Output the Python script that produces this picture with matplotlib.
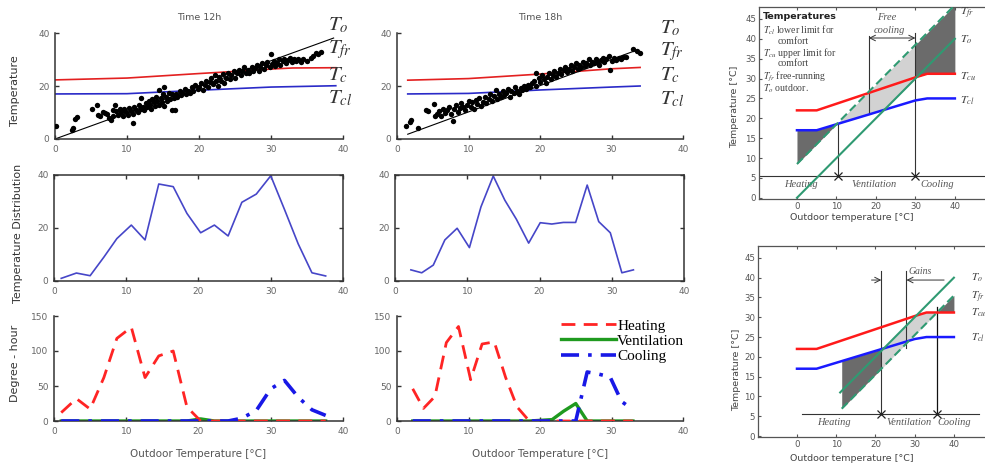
import numpy as np
import matplotlib
matplotlib.use('Agg')
import matplotlib.pyplot as plt

plt.rcParams['mathtext.fontset'] = 'stix'
plt.rcParams['font.family'] = ['DejaVu Sans']

# ---------------- data ----------------
# Time 12h scatter (outdoor temp vs indoor temp)
x12 = [0.1,2.3,2.5,2.8,3.0,5.2,5.9,6.0,6.3,6.6,6.9,7.2,7.5,7.8,8.0,8.1,8.3,8.5,8.8,9.0,9.2,9.4,9.6,9.9,
       10.1,10.3,10.5,10.8,10.9,11.0,11.3,11.5,11.7,11.9,12.0,12.2,12.4,12.6,12.8,13.0,13.2,13.3,13.5,13.7,
       13.9,14.0,14.2,14.4,14.5,14.7,14.9,15.0,15.1,15.2,15.4,15.6,15.8,16.0,16.2,16.3,16.5,16.7,16.8,17.0,
       17.3,17.5,17.7,18.0,18.2,18.5,18.8,19.0,19.2,19.5,19.8,20.0,20.3,20.5,20.8,21.0,21.2,21.5,21.7,22.0,
       22.2,22.4,22.6,22.8,23.0,23.3,23.5,23.8,24.0,24.3,24.5,24.8,25.0,25.3,25.5,25.8,26.0,26.3,26.5,26.8,
       27.0,27.3,27.5,27.8,28.0,28.3,28.5,28.8,29.0,29.3,29.5,29.8,30.0,30.1,30.4,30.6,30.9,31.1,31.3,31.6,
       31.8,32.1,32.3,32.6,32.9,33.2,33.5,33.8,34.2,34.5,35.0,35.5,35.8,36.2,36.5,37.0]
y12 = [4.8,3.5,4.2,7.5,8.2,11.5,12.8,9.0,8.5,10.2,9.8,9.5,8.0,7.2,11.0,8.5,13.0,10.5,9.0,11.2,10.0,8.5,11.5,10.2,
       9.0,11.8,10.5,9.5,6.2,12.0,11.0,10.0,13.0,11.5,15.5,12.2,10.8,13.5,12.0,14.5,13.0,11.5,15.0,13.8,
       12.5,16.0,14.2,18.5,13.0,15.5,14.0,17.0,19.5,12.5,16.0,14.5,17.5,15.0,11.0,16.8,15.5,10.8,17.0,16.0,
       18.2,16.5,17.5,19.0,16.8,18.0,17.2,19.5,18.2,20.5,18.8,19.8,21.0,18.5,20.2,22.0,19.5,21.5,23.0,20.8,
       24.0,22.0,20.0,23.5,22.0,24.5,21.0,23.2,25.0,22.5,24.0,25.5,23.0,24.8,26.2,24.0,25.5,27.0,24.8,26.0,
       25.0,27.2,25.8,26.8,28.0,25.5,27.0,28.5,26.5,27.8,29.0,27.0,32.0,28.2,29.5,27.5,28.8,30.0,28.0,29.5,
       30.2,28.5,29.8,30.5,29.0,30.2,29.5,30.0,29.2,30.0,29.5,30.5,31.5,32.5,32.0,33.0]
# Time 18h scatter
x18 = [1.3,1.8,2.0,2.9,4.0,4.3,5.2,5.3,5.6,5.9,6.1,6.4,6.7,7.0,7.3,7.5,7.9,8.0,8.3,8.5,8.8,9.0,9.3,9.5,9.8,
       10.0,10.3,10.5,10.8,11.0,11.2,11.5,11.8,12.0,12.3,12.5,12.8,13.0,13.3,13.5,13.8,14.0,14.3,14.5,14.8,
       15.0,15.3,15.5,15.8,16.0,16.3,16.5,16.8,17.0,17.3,17.5,17.8,18.0,18.3,18.6,18.9,19.2,19.5,19.5,19.8,
       20.0,20.3,20.5,20.8,21.0,21.3,21.5,21.8,22.0,22.3,22.5,22.8,23.0,23.3,23.5,23.8,24.0,24.3,24.5,24.8,
       25.0,25.3,25.5,25.8,26.0,26.3,26.5,26.8,27.0,27.3,27.5,27.8,28.0,28.3,28.5,28.8,29.0,29.3,29.6,29.8,
       30.0,30.3,30.6,31.0,31.3,31.6,32.0,33.0,33.5,34.0]
y18 = [4.8,6.5,7.2,4.2,11.0,10.5,13.2,8.5,9.5,10.5,8.8,11.2,9.8,10.8,12.0,9.5,6.8,11.5,12.8,10.2,11.8,13.5,12.0,10.8,13.0,
       14.5,12.2,13.8,11.5,14.8,13.2,15.5,12.5,14.0,16.0,13.5,15.2,17.0,14.5,16.2,18.5,15.0,17.0,15.8,18.0,
       16.5,17.5,19.0,16.0,18.0,17.2,19.5,18.2,17.0,19.2,18.5,20.0,19.0,20.5,19.5,21.0,22.0,25.0,20.0,23.0,
       21.5,24.0,22.5,21.2,23.5,25.0,22.8,24.2,25.5,23.5,25.0,26.5,24.5,26.0,27.0,25.2,26.5,27.8,25.8,27.0,
       28.5,26.5,28.0,27.0,29.0,27.5,28.5,30.0,27.8,29.2,28.5,30.2,29.0,28.0,29.8,30.5,29.0,30.2,31.5,26.2,
       29.5,30.5,29.8,30.5,30.0,31.0,30.8,33.8,33.2,32.5]
# comfort limits (left panels)
tc12_x = [0, 10, 20, 25, 30, 33, 39];  tc12_y = [22.3, 23.0, 24.7, 25.5, 26.4, 26.8, 26.9]
tcl12_x = [0, 10, 20, 30, 39];         tcl12_y = [17.0, 17.1, 18.4, 19.6, 20.1]
to12_x = [0, 38.7];                    to12_y = [0, 38.1]
tc18_x = [1.5, 10, 20, 25, 30, 34];    tc18_y = [22.2, 22.8, 24.5, 25.5, 26.5, 27.0]
tcl18_x = [1.5, 10, 20, 30, 34];       tcl18_y = [17.0, 17.2, 18.5, 19.6, 20.0]
to18_x = [1.5, 33.5];                  to18_y = [1.8, 33.5]

# temperature distribution
d12_x = [1.0,3.1,5.0,6.9,8.7,10.7,12.6,14.5,16.5,18.4,20.3,22.2,24.1,26.0,28.0,30.0,31.9,33.8,35.7,37.6]
d12_y = [1.0,3.0,2.0,9.0,16.0,21.1,15.5,36.6,35.6,25.5,18.2,21.1,17.0,29.7,32.8,39.7,27.0,14.0,3.1,1.9]
d18_x = [2.2,3.7,5.3,6.9,8.6,10.3,11.9,13.6,15.2,16.8,18.5,20.1,21.7,23.3,25.0,26.6,28.2,29.8,31.4,33.0]
d18_y = [4.2,3.1,6.0,15.5,19.9,12.6,28.0,39.6,30.5,23.3,14.3,22.0,21.5,22.1,22.1,36.2,22.4,18.2,3.1,4.2]

# degree-hours
heat12 = [12,32,17,62,118,134,62,93,100,20,0,0,0,0,0,0,0,0,0,0]
vent12 = [0,0,0,0,0,0,0,0,0,0,3,0,0,0,0,0,0,0,0,0]
cool12 = [0,0,0,0,0,0,0,0,0,0,0,0,0,4,15,46,58,34,16,8]
heat18 = [46,18,35,112,135,59,110,113,62,20,0,0,0,0,0,0,0,0,0,0]
vent18 = [0,0,0,0,0,0,0,0,0,0,0,1,2,14,25,0,0,0,0,0]
cool18 = [0,0,0,0,0,0,0,0,0,0,0,0,0,0,0,70,67,63,28,16]

# right-hand schematic diagrams
tcu_x = [0, 5, 30, 33, 40];  tcu_y = [22, 22, 30.3, 31.2, 31.2]
tcl_x = [0, 5, 30, 33, 40];  tcl_y = [17, 17, 24.5, 25, 25]
a_to_x = [0, 40];    a_to_y = [0, 40]
a_tfr_x = [0, 40];   a_tfr_y = [8.5, 48.5]
a_bounds = [10.3, 30.0]          # heating|ventilation, ventilation|cooling
b_to_x = [11.0, 40]; b_to_y = [11.0, 40]
b_tfr_x = [11.4, 40]; b_tfr_y = [6.9, 35.5]
b_bounds = [21.5, 35.7]

# ---------------- figure ----------------
W, H = 985, 465
fig = plt.figure(figsize=(W / 100, H / 100), dpi=100)

def add_ax(l, r, t, b):
    return fig.add_axes([l / W, 1 - b / H, (r - l) / W, (b - t) / H])

def ftext(px, py, s, **kw):
    fig.text(px / W, 1 - py / H, s, **kw)

TICKC = '#666666'
SPC = '#333333'

def style_left(ax, box=False, ylim=(0, 40), yticks=(0, 20, 40)):
    ax.set_xlim(0, 40)
    ax.set_ylim(*ylim)
    ax.set_xticks([0, 10, 20, 30, 40])
    ax.set_yticks(list(yticks))
    for s in ['left', 'bottom', 'top', 'right']:
        ax.spines[s].set_color(SPC)
        ax.spines[s].set_linewidth(1.1)
    if not box:
        ax.spines['top'].set_visible(False)
        ax.spines['right'].set_visible(False)
    ax.tick_params(direction='in', length=3, width=1, colors=SPC, labelcolor=TICKC,
                   labelsize=6.5, pad=4, top=box, right=box)
    ax.patch.set_alpha(0)

# --- top row
for (l, r, xs, ys, tcx, tcy, tlx, tly, tox, toy, title, lx, lys) in [
        (55, 343, x12, y12, tc12_x, tc12_y, tcl12_x, tcl12_y, to12_x, to12_y, 'Time 12h', 328, [25, 50, 75, 98]),
        (397, 683, x18, y18, tc18_x, tc18_y, tcl18_x, tcl18_y, to18_x, to18_y, 'Time 18h', 660, [28, 52, 75, 99])]:
    ax = add_ax(l, r, 33, 139)
    style_left(ax)
    ax.plot(tcx, tcy, color='#e32020', lw=1.2, zorder=2)
    ax.plot(tlx, tly, color='#2a2ac8', lw=1.2, zorder=2)
    ax.plot(tox, toy, color='black', lw=0.8, zorder=2)
    ax.scatter(xs, ys, s=15, color='black', zorder=3, linewidths=0)
    ftext((l + r) / 2, 18, title, ha='center', va='center', fontsize=6.8, color='#555555')
    for lab, ly in zip([r'$T_o$', r'$T_{fr}$', r'$T_c$', r'$T_{cl}$'], lys):
        ftext(lx, ly, lab, ha='left', va='center', fontsize=15, color='#333333')

# --- middle row
for (l, r, dx, dy) in [(54, 343, d12_x, d12_y), (395, 684, d18_x, d18_y)]:
    ax = add_ax(l, r, 175, 281)
    style_left(ax, box=True)
    ax.plot(dx, dy, color='#4646c8', lw=1.2)

# --- bottom row
for (l, r, dx, hh, vv, cc, leg) in [(54, 343, d12_x, heat12, vent12, cool12, False),
                                    (397, 683, d18_x, heat18, vent18, cool18, True)]:
    ax = add_ax(l, r, 316, 421)
    style_left(ax, ylim=(0, 150), yticks=(0, 50, 100, 150))
    ax.plot(dx, hh, color='#ff2424', lw=2.0, ls=(0, (5, 3)), label='Heating', zorder=3)
    ax.plot(dx, vv, color='#1f9a1f', lw=2.4, label='Ventilation', zorder=2)
    ax.plot(dx, cc, color='#1818e6', lw=2.6, ls=(0, (5, 2.5, 1, 2.5)), label='Cooling', zorder=4)
    ax.set_yticklabels(['0', '50', '100', '150'])
    if leg:
        ax.legend(loc='upper left', bbox_to_anchor=(0.54, 1.06), frameon=False,
                  prop={'family': 'Liberation Serif', 'size': 11}, handlelength=3.6,
                  handletextpad=0.1, labelspacing=0.1, borderpad=0.1)
    ftext((l + r) / 2, 454, 'Outdoor Temperature [°C]', ha='center', va='center',
          fontsize=7.5, color='#555555')

# left y-labels
ftext(15, 91, 'Temperature', rotation=90, ha='center', va='center', fontsize=8, color='#333333')
ftext(18, 233, 'Temperature Distribution', rotation=90, ha='center', va='center', fontsize=8, color='#333333')
ftext(15, 363, 'Degree - hour', rotation=90, ha='center', va='center', fontsize=8, color='#333333')

# --- right-hand diagrams
DARK = '#6b6b6b'
LIGHT = '#d2d2d2'
GREEN = '#2f9a72'
SERIF = 'Liberation Serif'

def style_right(ax):
    ax.set_xticks([0, 10, 20, 30, 40])
    ax.set_yticks(range(0, 50, 5))
    for s in ['left', 'bottom', 'top']:
        ax.spines[s].set_color('#555555')
        ax.spines[s].set_linewidth(0.9)
    ax.spines['right'].set_visible(False)
    ax.tick_params(direction='in', length=2.5, width=0.8, colors='#555555', labelcolor='#555555',
                   labelsize=6.2, top=True, pad=2)

# top-right
ax = add_ax(759, 990, 7, 199)
ax.set_xlim(-9.62, 48.9)
ax.set_ylim(-0.3, 48)
style_right(ax)
xx = np.linspace(0, 40, 401)
cu = np.interp(xx, tcu_x, tcu_y)
cl = np.interp(xx, tcl_x, tcl_y)
to = np.interp(xx, a_to_x, a_to_y)
fr = np.interp(xx, a_tfr_x, a_tfr_y)
b1, b2 = a_bounds
ax.fill_between(xx, fr, cl, where=xx <= b1 + 0.05, color=DARK, lw=0)
ax.fill_between(xx, np.maximum(cl, to), fr, where=(xx >= b1) & (xx <= b2), color=LIGHT, lw=0)
ax.fill_between(xx, cu, fr, where=xx >= b2 - 0.05, color=DARK, lw=0)
ax.plot(tcu_x, tcu_y, color='#ff1a1a', lw=1.8, zorder=4)
ax.plot(tcl_x, tcl_y, color='#1a1aff', lw=1.8, zorder=4)
ax.plot(a_to_x, a_to_y, color=GREEN, lw=1.5, zorder=4)
ax.plot(a_tfr_x, a_tfr_y, color=GREEN, lw=1.5, ls=(0, (4, 2)), zorder=4)
ax.axhline(5.5, color='#333333', lw=0.8)
ax.plot([b1, b1], [5.5, np.interp(b1, tcl_x, tcl_y)], color='#333333', lw=0.8)
ax.plot([b2, b2], [5.5, 41.5], color='#333333', lw=0.8)
ax.plot([18.2, 18.2], [21.0, 40.8], color='#333333', lw=0.8)
ax.plot([b1, b2], [5.5, 5.5], ls='none', marker='x', ms=6, mew=0.9, color='#222222')
ax.annotate('', xy=(18.2, 40.2), xytext=(30, 40.2),
            arrowprops=dict(arrowstyle='<->', lw=0.7, color='#333333', shrinkA=0, shrinkB=0))
ax.text(22.8, 45.3, 'Free', style='italic', family=SERIF, fontsize=7.5, ha='center', va='center', color='#555555')
ax.text(23.5, 42.2, 'cooling', style='italic', family=SERIF, fontsize=7.5, ha='center', va='center', color='#555555')
ax.text(1.0, 3.4, 'Heating', style='italic', family=SERIF, fontsize=7.5, ha='center', va='center', color='#555555')
ax.text(19.5, 3.4, 'Ventilation', style='italic', family=SERIF, fontsize=7.5, ha='center', va='center', color='#555555')
ax.text(35.5, 3.4, 'Cooling', style='italic', family=SERIF, fontsize=7.5, ha='center', va='center', color='#555555')
ax.text(-8.6, 45.7, 'Temperatures', fontweight='bold', fontsize=6.8, ha='left', va='center', color='#222222')
for s, xs_, ys_ in [(r'$T_{cl}$ lower limit for', -8.6, 42.2), ('comfort', -4.8, 39.3),
                    (r'$T_{cu}$ upper limit for', -8.6, 36.4), ('comfort', -4.8, 33.9),
                    (r'$T_{fr}$ free-running', -8.6, 30.4), (r'$T_o$ outdoor.', -8.6, 27.4)]:
    ax.text(xs_, ys_, s, family=SERIF, fontsize=7, ha='left', va='center', color='#444444')
for s, ys_ in [(r'$T_{fr}$', 46.3), (r'$T_o$', 39.7), (r'$T_{cu}$', 30.4), (r'$T_{cl}$', 24.6)]:
    ax.text(41.3, ys_, s, fontsize=8.5, ha='left', va='center', color='#444444')
ftext(735, 107, 'Temperature [°C]', rotation=90, ha='center', va='center', fontsize=6.8, color='#444444')
ftext(852, 217, 'Outdoor temperature [°C]', ha='center', va='center', fontsize=6.8, color='#444444')

# bottom-right
ax = add_ax(758, 990, 246, 437)
ax.set_xlim(-9.94, 49.2)
ax.set_ylim(-0.25, 48)
style_right(ax)
b1, b2 = b_bounds
xx = np.linspace(b_tfr_x[0], 40, 401)
cu = np.interp(xx, tcu_x, tcu_y)
cl = np.interp(xx, tcl_x, tcl_y)
to = np.interp(xx, b_to_x, b_to_y)
fr = np.interp(xx, b_tfr_x, b_tfr_y)
ax.fill_between(xx, fr, cl, where=xx <= b1 + 0.05, color=DARK, lw=0)
ax.fill_between(xx, fr, np.minimum(to, cu), where=(xx >= b1) & (xx <= b2), color=LIGHT, lw=0)
ax.fill_between(xx, cu, fr, where=xx >= b2 - 0.05, color=DARK, lw=0)
ax.plot(tcu_x, tcu_y, color='#ff1a1a', lw=1.8, zorder=4)
ax.plot(tcl_x, tcl_y, color='#1a1aff', lw=1.8, zorder=4)
ax.plot(b_to_x, b_to_y, color=GREEN, lw=1.5, zorder=4)
ax.plot(b_tfr_x, b_tfr_y, color=GREEN, lw=1.5, ls=(0, (4, 2)), zorder=4)
ax.plot([1.3, 46.5], [5.5, 5.5], color='#333333', lw=0.8)
ax.plot([b1, b1], [5.5, 41.6], color='#333333', lw=0.8)
ax.plot([27.9, 27.9], [22.2, 41.6], color='#333333', lw=0.8)
ax.plot([b2, b2], [5.5, 32.6], color='#111111', lw=0.9)
ax.plot([b1, b2], [5.5, 5.5], ls='none', marker='x', ms=6, mew=0.9, color='#222222')
ax.annotate('', xy=(b1, 39.4), xytext=(19.0, 39.4),
            arrowprops=dict(arrowstyle='->', lw=0.7, color='#333333', shrinkA=0, shrinkB=0))
ax.annotate('', xy=(27.9, 39.4), xytext=(37.5, 39.4),
            arrowprops=dict(arrowstyle='->', lw=0.7, color='#333333', shrinkA=0, shrinkB=0))
ax.text(28.3, 41.6, 'Gains', style='italic', family=SERIF, fontsize=7, ha='left', va='center', color='#555555')
ax.text(9.3, 3.3, 'Heating', style='italic', family=SERIF, fontsize=7.5, ha='center', va='center', color='#555555')
ax.text(28.6, 3.3, 'Ventilation', style='italic', family=SERIF, fontsize=7.5, ha='center', va='center', color='#555555')
ax.text(40.0, 3.3, 'Cooling', style='italic', family=SERIF, fontsize=7.5, ha='center', va='center', color='#555555')
for s, ys_ in [(r'$T_o$', 40.0), (r'$T_{fr}$', 34.9), (r'$T_{cu}$', 31.1), (r'$T_{cl}$', 24.8)]:
    ax.text(44.3, ys_, s, fontsize=8, ha='left', va='center', color='#444444')
ftext(737, 370, 'Temperature [°C]', rotation=90, ha='center', va='center', fontsize=6.8, color='#444444')
ftext(852, 458, 'Outdoor temperature [°C]', ha='center', va='center', fontsize=6.8, color='#444444')

fig.savefig('out.png', dpi=100)
